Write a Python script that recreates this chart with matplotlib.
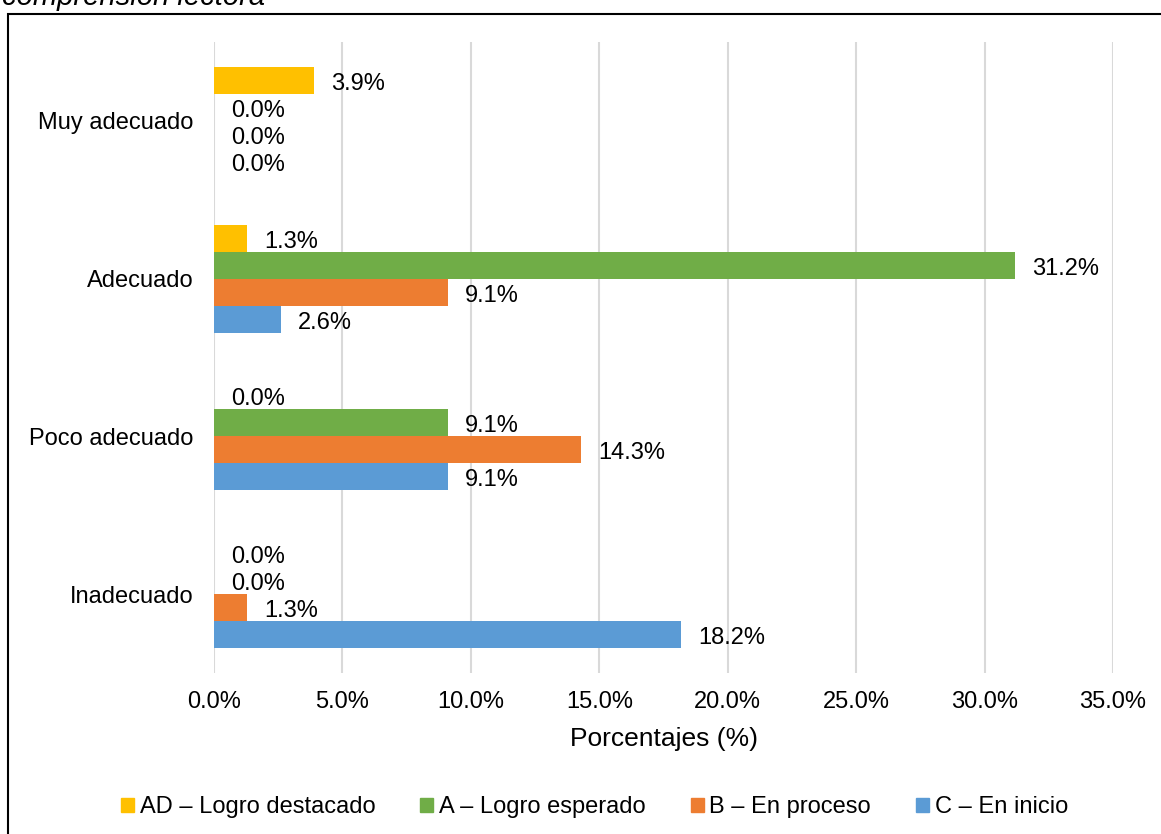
import matplotlib.pyplot as plt
from matplotlib.patches import Patch, Rectangle
import numpy as np

plt.rcParams['font.family'] = ['Liberation Sans', 'DejaVu Sans']

# categories bottom -> top
categorias = ['Inadecuado', 'Poco adecuado', 'Adecuado', 'Muy adecuado']
series = ['AD – Logro destacado', 'A – Logro esperado', 'B – En proceso', 'C – En inicio']
colores = ['#FFC000', '#70AD47', '#ED7D31', '#5B9BD5']

ad = [0.0, 0.0, 1.3, 3.9]
a = [0.0, 9.1, 31.2, 0.0]
b = [1.3, 14.3, 9.1, 0.0]
c = [18.2, 9.1, 2.6, 0.0]
valores = [ad, a, b, c]

fig = plt.figure(figsize=(11.61, 8.34), dpi=100)
ax = fig.add_axes([214 / 1161, 1 - 673 / 834, 899 / 1161, 631 / 834])

h = 0.171
offsets = [1.5 * h, 0.5 * h, -0.5 * h, -1.5 * h]
y = np.arange(len(categorias))
for vals, col, off, name in zip(valores, colores, offsets, series):
    bars = ax.barh(y + off, vals, height=h, color=col, label=name, zorder=3)
    etiquetas = ax.bar_label(bars, fmt='%.1f%%', padding=12, fontsize=17, color='black')
    for t in etiquetas:
        t.xyann = (12, -2.5)

ax.set_xlim(0, 35)
ax.set_ylim(-0.5, 3.5)
ax.set_xticks(np.arange(0, 36, 5))
ax.set_xticklabels(['%.1f%%' % v for v in np.arange(0, 36, 5)], fontsize=17)
ax.set_yticks(y)
ax.set_yticklabels(categorias, fontsize=17)
ax.tick_params(axis='both', length=0)
ax.tick_params(axis='y', pad=15)
ax.tick_params(axis='x', pad=13)
ax.grid(axis='x', color='#D9D9D9', linewidth=1.5, zorder=0)
for s in ax.spines.values():
    s.set_visible(False)
ax.set_xlabel('Porcentajes (%)', fontsize=19, labelpad=10)

handles = [Patch(color=col) for col in colores]
fig.legend(handles, series, loc='center', bbox_to_anchor=(0.512, 1 - 807 / 834),
           ncol=4, frameon=False, fontsize=17, handlelength=0.55, handleheight=0.55,
           handletextpad=0.25, columnspacing=1.9)

# border of the original figure frame, cut at the right and bottom
fig.patches.append(Rectangle((8 / 1161, -0.1), 1.2, 1 - 14 / 834 + 0.1,
                             transform=fig.transFigure, fill=False,
                             edgecolor='black', linewidth=1.5))
fig.text(2 / 1161, 1 - 5 / 834, 'comprensión lectora', fontsize=21,
         style='italic', va='baseline', ha='left')

fig.savefig('out.png', dpi=100)
